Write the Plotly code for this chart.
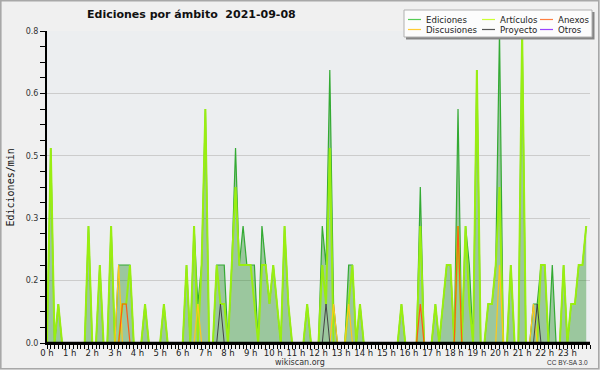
import plotly.graph_objects as go

# ---- data: 10-minute bins, edits per minute ----
minutes = list(range(0, 1440, 10))

ediciones = [
    0, 0.5, 0, 0.1, 0, 0, 0, 0, 0, 0,
    0, 0.3, 0, 0, 0.2, 0, 0, 0.3, 0, 0.2,
    0.2, 0.2, 0.2, 0, 0, 0, 0.1, 0, 0, 0,
    0, 0.1, 0, 0, 0, 0, 0, 0.2, 0, 0.3,
    0.1, 0.2, 0.6, 0, 0, 0.2, 0.2, 0.2, 0, 0.2,
    0.5, 0.2, 0.3, 0.2, 0.2, 0.2, 0, 0.3, 0.2, 0.1,
    0.2, 0.1, 0, 0.3, 0.1, 0, 0, 0, 0, 0.1,
    0, 0, 0, 0.3, 0.2, 0.7, 0.1, 0, 0, 0,
    0.2, 0.2, 0, 0.1, 0, 0, 0, 0, 0, 0,
    0, 0, 0, 0, 0.1, 0, 0, 0, 0, 0.4,
    0, 0, 0, 0.1, 0, 0.1, 0.2, 0.2, 0, 0.6,
    0, 0.3, 0.2, 0, 0.7, 0, 0, 0.1, 0.1, 0.2,
    0.8, 0, 0, 0.2, 0, 0, 0.8, 0, 0, 0.1,
    0.1, 0.2, 0.2, 0, 0.2, 0, 0, 0.2, 0, 0.1,
    0.1, 0.2, 0.2, 0.3,
]

articulos = [
    0, 0.5, 0, 0.1, 0, 0, 0, 0, 0, 0,
    0, 0.3, 0, 0, 0.2, 0, 0, 0.3, 0, 0,
    0.1, 0.1, 0.2, 0, 0, 0, 0.1, 0, 0, 0,
    0, 0.1, 0, 0, 0, 0, 0, 0.2, 0, 0.3,
    0, 0.2, 0.6, 0, 0, 0.2, 0.1, 0.1, 0, 0.2,
    0.4, 0.2, 0.2, 0.2, 0.2, 0.1, 0, 0.2, 0.2, 0.1,
    0.2, 0.1, 0, 0.3, 0.1, 0, 0, 0, 0, 0.1,
    0, 0, 0, 0.2, 0.1, 0.5, 0, 0, 0, 0,
    0.1, 0.2, 0, 0.1, 0, 0, 0, 0, 0, 0,
    0, 0, 0, 0, 0.1, 0, 0, 0, 0, 0.3,
    0, 0, 0, 0.1, 0, 0.1, 0.2, 0.2, 0, 0.3,
    0, 0.3, 0.1, 0, 0.7, 0, 0, 0.1, 0.1, 0.2,
    0.4, 0, 0, 0.2, 0, 0, 0.8, 0, 0, 0,
    0, 0.2, 0.2, 0, 0, 0, 0, 0.2, 0, 0.1,
    0.1, 0.2, 0.2, 0.3,
]

discusiones = [0] * 144
for i, v in [(19, 0.2), (40, 0.1), (76, 0.1), (80, 0.1), (120, 0.2), (129, 0.1)]:
    discusiones[i] = v

anexos = [0] * 144
for i, v in [(20, 0.1), (21, 0.1), (99, 0.1), (109, 0.3)]:
    anexos[i] = v

proyecto = [0] * 144
for i, v in [(46, 0.1), (74, 0.1), (130, 0.1)]:
    proyecto[i] = v

otros = [0] * 144

hour_ticks = list(range(24))
hour_labels = [f"{h} h" for h in hour_ticks]
y_ticks = [0, 0.16, 0.32, 0.48, 0.64, 0.8]
y_labels = ["0.0", "0.2", "0.3", "0.5", "0.6", "0.8"]

# ---- layout geometry ----
W_PX, H_PX = 600, 370
L, R, T, B = 47, 590, 31, 343
PW, PH = R - L, B - T


def X(px):
    return (px - L) / PW


def Y(py):
    return (B - py) / PH


hours = [m / 60 for m in minutes]

fig = go.Figure()
fig.add_trace(go.Scatter(x=hours, y=ediciones, mode="lines", name="Ediciones",
                         line=dict(color="#33aa33", width=1.2),
                         fill="tozeroy", fillcolor="rgba(34,139,34,0.4)",
                         showlegend=False))
fig.add_trace(go.Scatter(x=hours, y=articulos, mode="lines", name="Artículos",
                         line=dict(color="#99ee11", width=2), showlegend=False))
fig.add_trace(go.Scatter(x=hours, y=discusiones, mode="lines", name="Discusiones",
                         line=dict(color="#ffc81a", width=1.2), showlegend=False))
fig.add_trace(go.Scatter(x=hours, y=anexos, mode="lines", name="Anexos",
                         line=dict(color="#ff5a14", width=1.2), showlegend=False))
fig.add_trace(go.Scatter(x=hours, y=proyecto, mode="lines", name="Proyecto",
                         line=dict(color="#444444", width=1), showlegend=False))
fig.add_trace(go.Scatter(x=hours, y=otros, mode="lines", name="Otros",
                         line=dict(color="#9933ff", width=1), showlegend=False))

shapes = []
annotations = []

# outer frame
shapes.append(dict(type="rect", xref="paper", yref="paper",
                   x0=X(0.8), x1=X(598.8), y0=Y(368.8), y1=Y(0.8),
                   line=dict(color="#a8a8a8", width=1.6), layer="below"))

# baseline drawn over the zero-valued lines (as in the reference)
shapes.append(dict(type="line", xref="paper", yref="y",
                   x0=X(L - 1), x1=1, y0=0, y1=0,
                   line=dict(color="#000000", width=2.5), layer="above"))

# legend box with shadow
shapes.append(dict(type="rect", xref="paper", yref="paper",
                   x0=X(406), x1=X(594.5), y0=Y(39.5), y1=Y(12),
                   fillcolor="#858585", line=dict(width=0), layer="above"))
shapes.append(dict(type="rect", xref="paper", yref="paper",
                   x0=X(404), x1=X(592), y0=Y(37), y1=Y(10),
                   fillcolor="#fcfcfc", line=dict(color="#b0b0b0", width=1), layer="above"))

legend_items = [
    ("Ediciones", "#55cc55", 408, 19.5),
    ("Artículos", "#ccff33", 482, 19.5),
    ("Anexos", "#ff7f40", 540, 19.5),
    ("Discusiones", "#ffcc33", 408, 29.5),
    ("Proyecto", "#555555", 482, 29.5),
    ("Otros", "#9944ff", 540, 29.5),
]
for name, col, lx, ly in legend_items:
    shapes.append(dict(type="line", xref="paper", yref="paper",
                       x0=X(lx), x1=X(lx + 13), y0=Y(ly), y1=Y(ly),
                       line=dict(color=col, width=1.2), layer="above"))
    annotations.append(dict(text=name, xref="paper", yref="paper",
                            x=X(lx + 16), y=Y(ly + 0.5), xanchor="left", yanchor="middle",
                            showarrow=False,
                            font=dict(family="DejaVu Sans", size=8.6, color="#222222")))

# title
annotations.append(dict(text="<b>Ediciones por ámbito\u00a0\u00a02021-09-08</b>",
                        xref="paper", yref="paper", x=X(85), y=Y(14.5),
                        xanchor="left", yanchor="middle", showarrow=False,
                        font=dict(family="DejaVu Sans", size=11, color="#111111")))
# y axis title
annotations.append(dict(text="Ediciones/min", xref="paper", yref="paper",
                        x=X(9.5), y=Y(188), xanchor="center", yanchor="middle",
                        textangle=-90, showarrow=False,
                        font=dict(family="DejaVu Sans Mono", size=10, color="#111111")))
# footer
annotations.append(dict(text="wikiscan.org", xref="paper", yref="paper",
                        x=X(300), y=Y(362), xanchor="center", yanchor="middle",
                        showarrow=False,
                        font=dict(family="DejaVu Sans", size=8, color="#333333")))
annotations.append(dict(text="CC BY-SA 3.0", xref="paper", yref="paper",
                        x=X(590), y=Y(362.5), xanchor="right", yanchor="middle",
                        showarrow=False,
                        font=dict(family="Liberation Sans", size=6.5, color="#333333")))

fig.update_layout(
    width=W_PX, height=H_PX,
    margin=dict(l=L, r=W_PX - R, t=T, b=H_PX - B, pad=0),
    paper_bgcolor="#f0f0f0",
    plot_bgcolor="#eceef0",
    showlegend=False,
    shapes=shapes,
    annotations=annotations,
    xaxis=dict(
        range=[0, 24], tickvals=hour_ticks, ticktext=hour_labels,
        ticks="outside", ticklen=4, tickwidth=1, tickcolor="#000000",
        ticklabelstandoff=-3,
        showgrid=False, zeroline=False,
        showline=True, linecolor="#000000", linewidth=2,
        tickfont=dict(family="DejaVu Sans", size=8.5, color="#222222"),
        minor=dict(dtick=1 / 6, tick0=0, ticks="outside", ticklen=4,
                   tickcolor="#000000", tickwidth=1, showgrid=False),
        fixedrange=True,
    ),
    yaxis=dict(
        range=[0, 0.8], tickvals=y_ticks, ticktext=y_labels,
        ticks="outside", ticklen=5, tickwidth=1, tickcolor="#000000",
        showgrid=True, gridcolor="#cccccc", gridwidth=1, zeroline=False,
        showline=True, linecolor="#000000", linewidth=2,
        tickfont=dict(family="DejaVu Sans", size=8, color="#333333"),
        minor=dict(dtick=0.04, tick0=0, ticks="outside", ticklen=5,
                   tickcolor="#000000", tickwidth=1, showgrid=False),
        fixedrange=True,
    ),
)

fig.write_html("out.html",
               config={"displayModeBar": False},
               post_script="document.body.style.margin='0';document.body.style.overflow='hidden';")
